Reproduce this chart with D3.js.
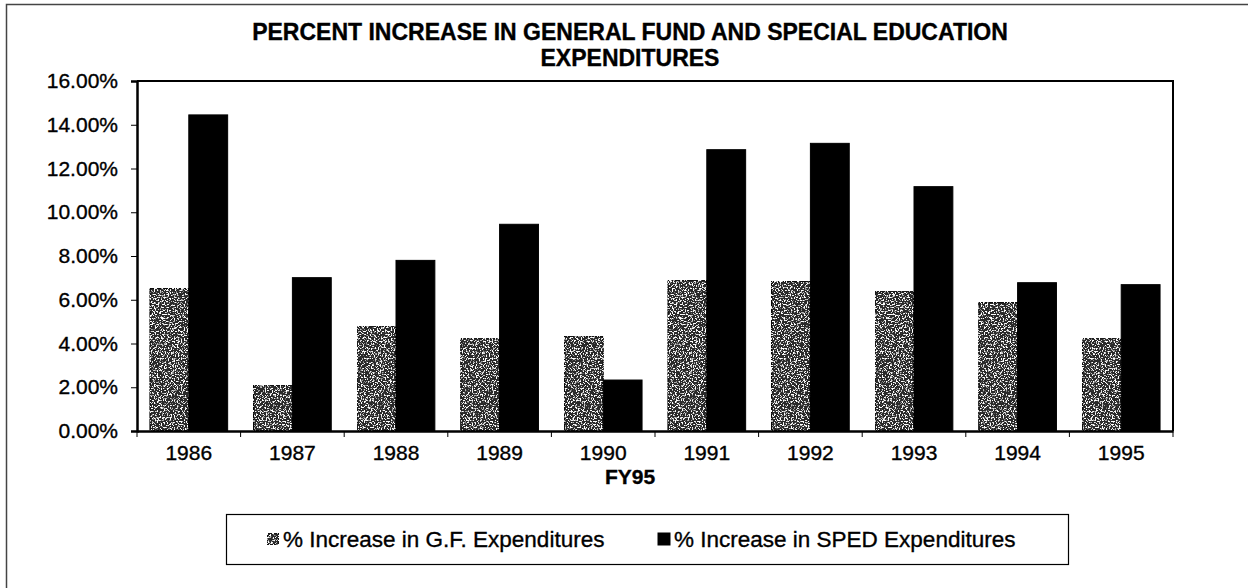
<!DOCTYPE html>
<html>
<head>
<meta charset="utf-8">
<script src="https://cdn.jsdelivr.net/npm/d3@7"></script>
<style>
  html, body { margin: 0; padding: 0; background: #fff; }
  svg { display: block; }
  text { font-family: Arial, "Liberation Sans", sans-serif; fill: #000; stroke: #000; stroke-width: 0.35px; }
</style>
</head>
<body>
<svg id="chart" width="1248" height="588"></svg>
<script>
// Fiscal years and annual percent increases
const years = ["1986", "1987", "1988", "1989", "1990", "1991", "1992", "1993", "1994", "1995"];
const gfIncrease   = [0.0652, 0.0210, 0.0477, 0.0424, 0.0434, 0.0690, 0.0684, 0.0637, 0.0587, 0.0424];
const spedIncrease = [0.1445, 0.0701, 0.0780, 0.0945, 0.0233, 0.1286, 0.1315, 0.1117, 0.0678, 0.0669];
const seriesNames  = ["% Increase in G.F. Expenditures", "% Increase in SPED Expenditures"];
const yTicks = [0, 0.02, 0.04, 0.06, 0.08, 0.10, 0.12, 0.14, 0.16];
const titleLines = ["PERCENT INCREASE IN GENERAL FUND AND SPECIAL EDUCATION", "EXPENDITURES"];
const xTitle = "FY95";

const svg = d3.select("#chart");
const W = 1248, H = 588;
const plot = { left: 137, right: 1173, top: 81, bottom: 431 };
const FONT = "Arial, 'Liberation Sans', sans-serif";

// Speckled texture for the general fund bars
const defs = svg.append("defs");
const grain = defs.append("filter").attr("id", "grain")
  .attr("x", 0).attr("y", 0).attr("width", 1).attr("height", 1);
grain.append("feTurbulence").attr("type", "fractalNoise")
  .attr("baseFrequency", 0.7).attr("numOctaves", 2).attr("seed", 7).attr("result", "noise");
grain.append("feColorMatrix").attr("in", "noise").attr("type", "matrix")
  .attr("values", "0 0 0 0 1  0 0 0 0 1  0 0 0 0 1  9 0 0 0 -4.8").attr("result", "speck");
grain.append("feComposite").attr("in", "speck").attr("in2", "SourceGraphic")
  .attr("operator", "in").attr("result", "speckIn");
const merge = grain.append("feMerge");
merge.append("feMergeNode").attr("in", "SourceGraphic");
merge.append("feMergeNode").attr("in", "speckIn");

// Outer frame
svg.append("rect")
  .attr("x", 6.5).attr("y", 4.5).attr("width", W + 10).attr("height", H + 10)
  .attr("fill", "none").attr("stroke", "#444").attr("stroke-width", 1.5);

// Title
const title = svg.append("text")
  .attr("text-anchor", "middle")
  .attr("font-size", 23).attr("font-weight", "bold");
titleLines.forEach((t, i) => {
  title.append("tspan").attr("x", 630).attr("y", 40 + i * 26).text(t);
});

// Scales
const x0 = d3.scaleBand().domain(years)
  .range([plot.left, plot.right]).paddingInner(0.25).paddingOuter(0.125);
const x1 = d3.scaleBand().domain([0, 1]).range([0, x0.bandwidth()]);
const y = d3.scaleLinear().domain([0, 0.16]).range([plot.bottom, plot.top]);

// Bars
const groups = svg.append("g").selectAll("g")
  .data(years.map((yr, i) => ({ yr, vals: [gfIncrease[i], spedIncrease[i]] })))
  .join("g")
  .attr("transform", d => `translate(${x0(d.yr)},0)`);

groups.selectAll("rect")
  .data(d => d.vals.map((v, k) => ({ v, k })))
  .join("rect")
  .attr("x", d => x1(d.k))
  .attr("y", d => y(d.v))
  .attr("width", x1.bandwidth())
  .attr("height", d => y(0) - y(d.v))
  .attr("fill", d => d.k === 0 ? "#2a2a2a" : "#000")
  .attr("stroke", "#000").attr("stroke-width", 1)
  .attr("filter", d => d.k === 0 ? "url(#grain)" : null);

// Plot frame (top and right)
svg.append("path")
  .attr("d", `M${plot.left},${plot.top}H${plot.right}V${plot.bottom}`)
  .attr("fill", "none").attr("stroke", "#000").attr("stroke-width", 2);

// Y axis
const yAxis = svg.append("g")
  .attr("transform", `translate(${plot.left},0)`)
  .call(d3.axisLeft(y).tickValues(yTicks).tickFormat(d3.format(".2%")).tickSize(6).tickPadding(13));
yAxis.select(".domain").attr("stroke", "#000").attr("stroke-width", 2.5);
yAxis.selectAll(".tick line").attr("stroke", "#000").attr("stroke-width", 1);
yAxis.selectAll(".tick text").attr("font-size", 21).attr("font-family", FONT);

// X axis labels centred on each year
const xAxis = svg.append("g")
  .attr("transform", `translate(0,${plot.bottom})`)
  .call(d3.axisBottom(x0).tickSize(0).tickPadding(14));
xAxis.select(".domain").attr("stroke", "#000").attr("stroke-width", 2.5);
xAxis.selectAll(".tick text").attr("font-size", 21).attr("font-family", FONT);

// Small tick marks between years
const boundaries = d3.range(years.length + 1).map(i => plot.left + i * x0.step());
svg.append("g").selectAll("line")
  .data(boundaries)
  .join("line")
  .attr("x1", d => d).attr("x2", d => d)
  .attr("y1", plot.bottom).attr("y2", plot.bottom + 6)
  .attr("stroke", "#000").attr("stroke-width", 1);

// X axis title
svg.append("text")
  .attr("x", 630).attr("y", 484)
  .attr("text-anchor", "middle")
  .attr("font-size", 21).attr("font-weight", "bold")
  .text(xTitle);

// Legend
const legend = svg.append("g");
legend.append("rect")
  .attr("x", 226.5).attr("y", 514.5).attr("width", 842).attr("height", 50)
  .attr("fill", "#fff").attr("stroke", "#000").attr("stroke-width", 1.2);
const legendX = [267, 658];
seriesNames.forEach((name, k) => {
  legend.append("rect")
    .attr("x", legendX[k]).attr("y", 533).attr("width", 12).attr("height", 12)
    .attr("fill", k === 0 ? "#2a2a2a" : "#000")
    .attr("stroke", "#000").attr("stroke-width", 1)
    .attr("filter", k === 0 ? "url(#grain)" : null);
  legend.append("text")
    .attr("x", legendX[k] + 16).attr("y", 547)
    .attr("font-size", 22.5)
    .text(name);
});
</script>
</body>
</html>
